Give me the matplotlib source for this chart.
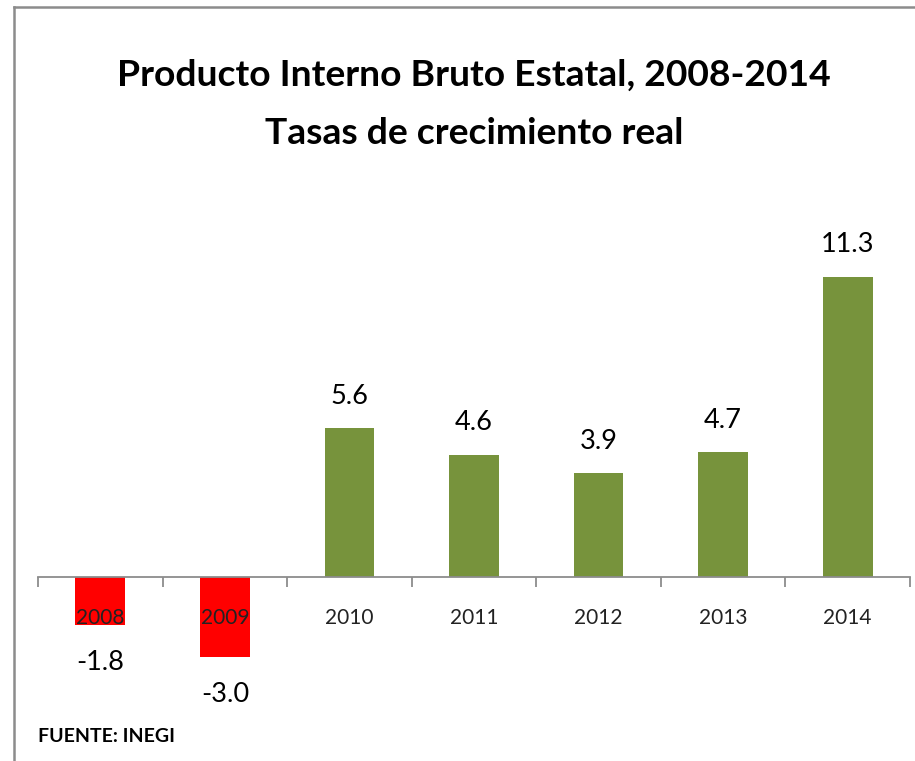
import matplotlib
matplotlib.use("Agg")
import matplotlib.pyplot as plt
from matplotlib.lines import Line2D

years = ["2008", "2009", "2010", "2011", "2012", "2013", "2014"]
values = [-1.8, -3.0, 5.6, 4.6, 3.9, 4.7, 11.3]
title_lines = ["Producto Interno Bruto Estatal, 2008-2014", "Tasas de crecimiento real"]
source = "FUENTE: INEGI"

fam = ["Lato", "DejaVu Sans"]

W, H = 915, 761
fig = plt.figure(figsize=(W / 100, H / 100), dpi=100)
fig.patch.set_facecolor("white")

# frame lines
fig.add_artist(Line2D([14 / W, 14 / W], [0, 1 - 7 / H], color="#8c8c8c", lw=1.8, transform=fig.transFigure))
fig.add_artist(Line2D([14 / W, 1], [1 - 7 / H, 1 - 7 / H], color="#8c8c8c", lw=1.8, transform=fig.transFigure))

ax = fig.add_axes([38 / W, 1 - 700 / H, 872 / W, 540 / H])
x = list(range(len(years)))
colors = ["#FF0000" if v < 0 else "#77933C" for v in values]
ax.bar(x, values, width=0.4, color=colors, zorder=1)
ax.set_xlim(-0.5, 6.5)
ax.set_ylim(-4.62, 15.68)
for s in ["top", "right", "left"]:
    ax.spines[s].set_visible(False)
ax.spines["bottom"].set_position(("data", 0))
ax.spines["bottom"].set_color("#8c8c8c")
ax.spines["bottom"].set_linewidth(1.3)
ax.spines["bottom"].set_zorder(3)
ax.set_yticks([])
ax.set_xticks([i - 0.5 for i in range(len(years) + 1)])
ax.set_xticklabels([])
ax.tick_params(axis="x", direction="out", length=7, color="#8c8c8c", width=1.3, pad=0)

for i, (yr, v) in enumerate(zip(years, values)):
    ax.text(i, -1.55, yr, ha="center", va="center", fontsize=15, family=fam, color="#222222", zorder=4)
    off = 23 if v >= 0 else -27
    ax.annotate(f"{v:.1f}", (i, v), xytext=(0, off), textcoords="offset points",
                ha="center", va="center", fontsize=19.5, family=fam, color="black")

fig.text(474 / W, 1 - 75 / H, title_lines[0], ha="center", va="center", fontsize=26.8,
         fontweight="bold", family=fam, color="black")
fig.text(474 / W, 1 - 133 / H, title_lines[1], ha="center", va="center", fontsize=26.8,
         fontweight="bold", family=fam, color="black")
fig.text(38 / W, 1 - 737 / H, source, ha="left", va="center", fontsize=14, fontweight="bold",
         family=fam, color="black")

fig.savefig("out.png", dpi=100, facecolor="white")
